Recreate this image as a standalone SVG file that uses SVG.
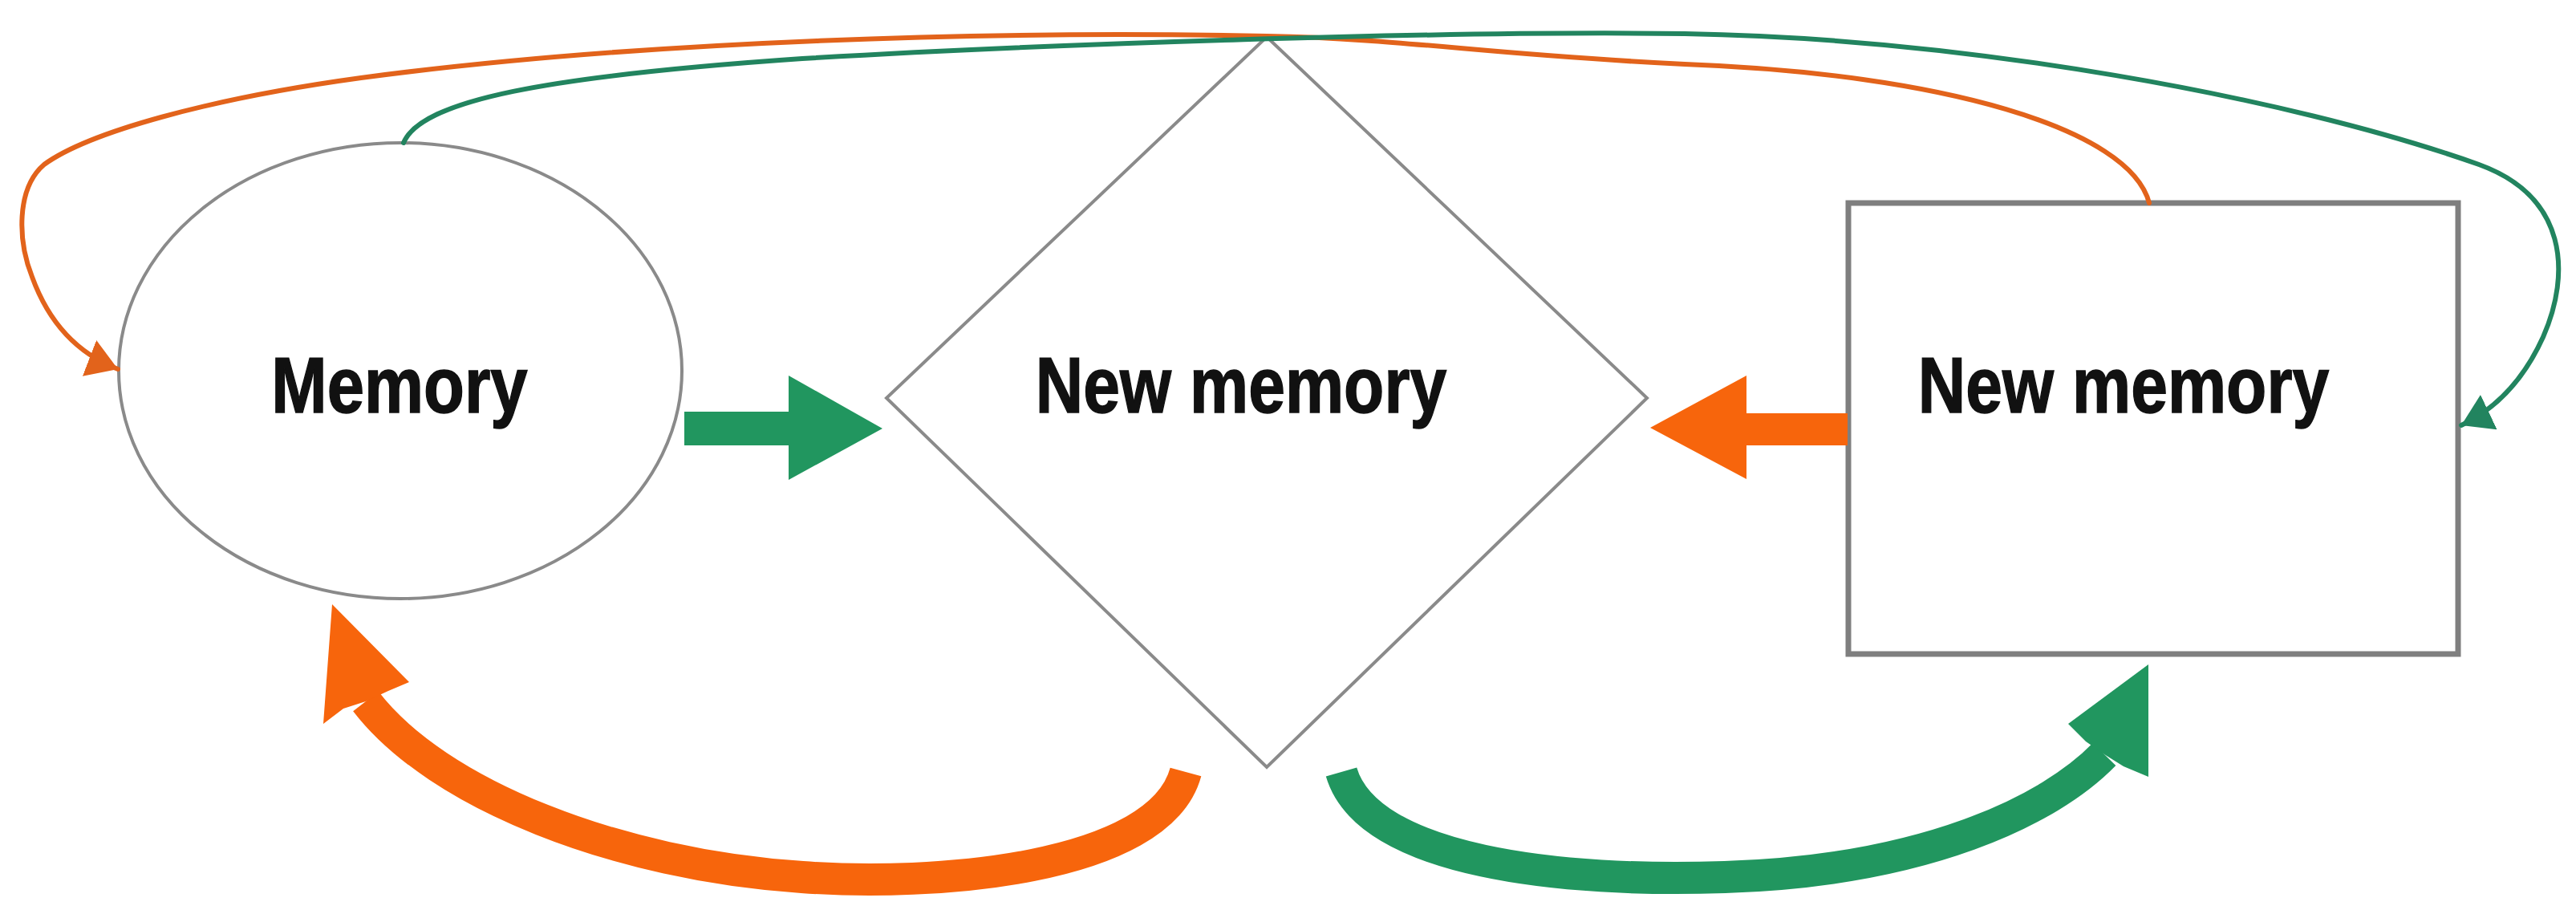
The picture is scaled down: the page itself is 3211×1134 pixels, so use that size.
<svg xmlns="http://www.w3.org/2000/svg" width="3211" height="1134" viewBox="0 0 3211 1134">
  <defs>
    <style>
      .node-shape { fill: #ffffff; stroke: #8a8a8a; stroke-width: 4; }
      .box { fill: #ffffff; stroke: #7f7f7f; stroke-width: 7; }
      .label { font-family: "Liberation Sans", Arial, sans-serif; font-weight: 700; font-size: 98px; fill: #111111; stroke: #111111; stroke-width: 1.5; text-anchor: middle; }
      .thin-orange { fill: none; stroke: #E2631B; stroke-width: 6; stroke-linecap: round; }
      .thin-green { fill: none; stroke: #22845F; stroke-width: 6; stroke-linecap: round; }
      .thick-orange { fill: none; stroke: #F7650C; stroke-width: 40; }
      .thick-green { fill: none; stroke: #21965F; stroke-width: 40; }
      .fill-orange { fill: #F7650C; }
      .fill-green { fill: #21965F; }
    </style>
    <marker id="headOrange" markerUnits="userSpaceOnUse" markerWidth="44" markerHeight="50" refX="38" refY="24" orient="auto">
      <path d="M0,0 L38,24 L0,48 z" fill="#E2631B"/>
    </marker>
    <marker id="headGreen" markerUnits="userSpaceOnUse" markerWidth="44" markerHeight="50" refX="38" refY="24" orient="auto">
      <path d="M0,0 L38,24 L0,48 z" fill="#22845F"/>
    </marker>
  </defs>
  <rect x="0" y="0" width="3211" height="1134" fill="#ffffff"/>

  <g id="node-memory">
    <ellipse class="node-shape" cx="499" cy="462" rx="351" ry="284"/>
    <text class="label" transform="translate(498,514) scale(0.85,1)" x="0" y="0">Memory</text>
  </g>

  <g id="node-new-memory-diamond">
    <polygon class="node-shape" points="1579,46 2053,496 1579,956 1105,496"/>
    <text class="label" transform="translate(1547,514) scale(0.84,1)" x="0" y="0">New memory</text>
  </g>

  <g id="node-new-memory-box">
    <rect class="box" x="2304" y="253" width="760" height="562"/>
    <text class="label" transform="translate(2647,514) scale(0.84,1)" x="0" y="0">New memory</text>
  </g>

  <g id="connectors">
    <!-- block arrow: Memory -> diamond -->
    <polygon class="fill-green" points="853,513 983,513 983,468 1100,534 983,598 983,555 853,555"/>
    <!-- block arrow: box -> diamond -->
    <polygon class="fill-orange" points="2303,515 2177,515 2177,468 2057,533 2177,597 2177,555 2303,555"/>

    <!-- thick curved orange: diamond bottom -> Memory -->
    <path class="thick-orange" d="M1478,962 C1445,1085 1160,1105 1000,1093 C770,1078 545,990 456,874"/>
    <polygon class="fill-orange" points="414,753 510,850 484,861 456,874 428,883 403,902"/>

    <!-- thick curved green: diamond bottom -> box -->
    <path class="thick-green" d="M1672,962 C1705,1075 1950,1100 2150,1093 C2400,1085 2555,1010 2623,940"/>
    <polygon class="fill-green" points="2678,828 2678,968 2647,955 2623,940 2600,924 2578,902"/>

    <!-- thin orange: box top -> Memory left -->
    <path class="thin-orange" marker-end="url(#headOrange)" d="M2679,253 C2655,160 2420,92 2100,80 C1850,68 1750,48 1579,45 C1250,38 800,50 450,97 C260,123 110,165 55,205 C20,235 22,300 40,345 C60,400 95,440 147,460"/>

    <!-- thin green: Memory top -> box right -->
    <path class="thin-green" marker-end="url(#headGreen)" d="M503,178 C525,125 680,95 1000,73 C1300,55 1800,38 2100,42 C2450,48 2850,120 3090,205 C3200,245 3205,340 3170,420 C3145,475 3110,510 3068,530"/>
  </g>
</svg>
